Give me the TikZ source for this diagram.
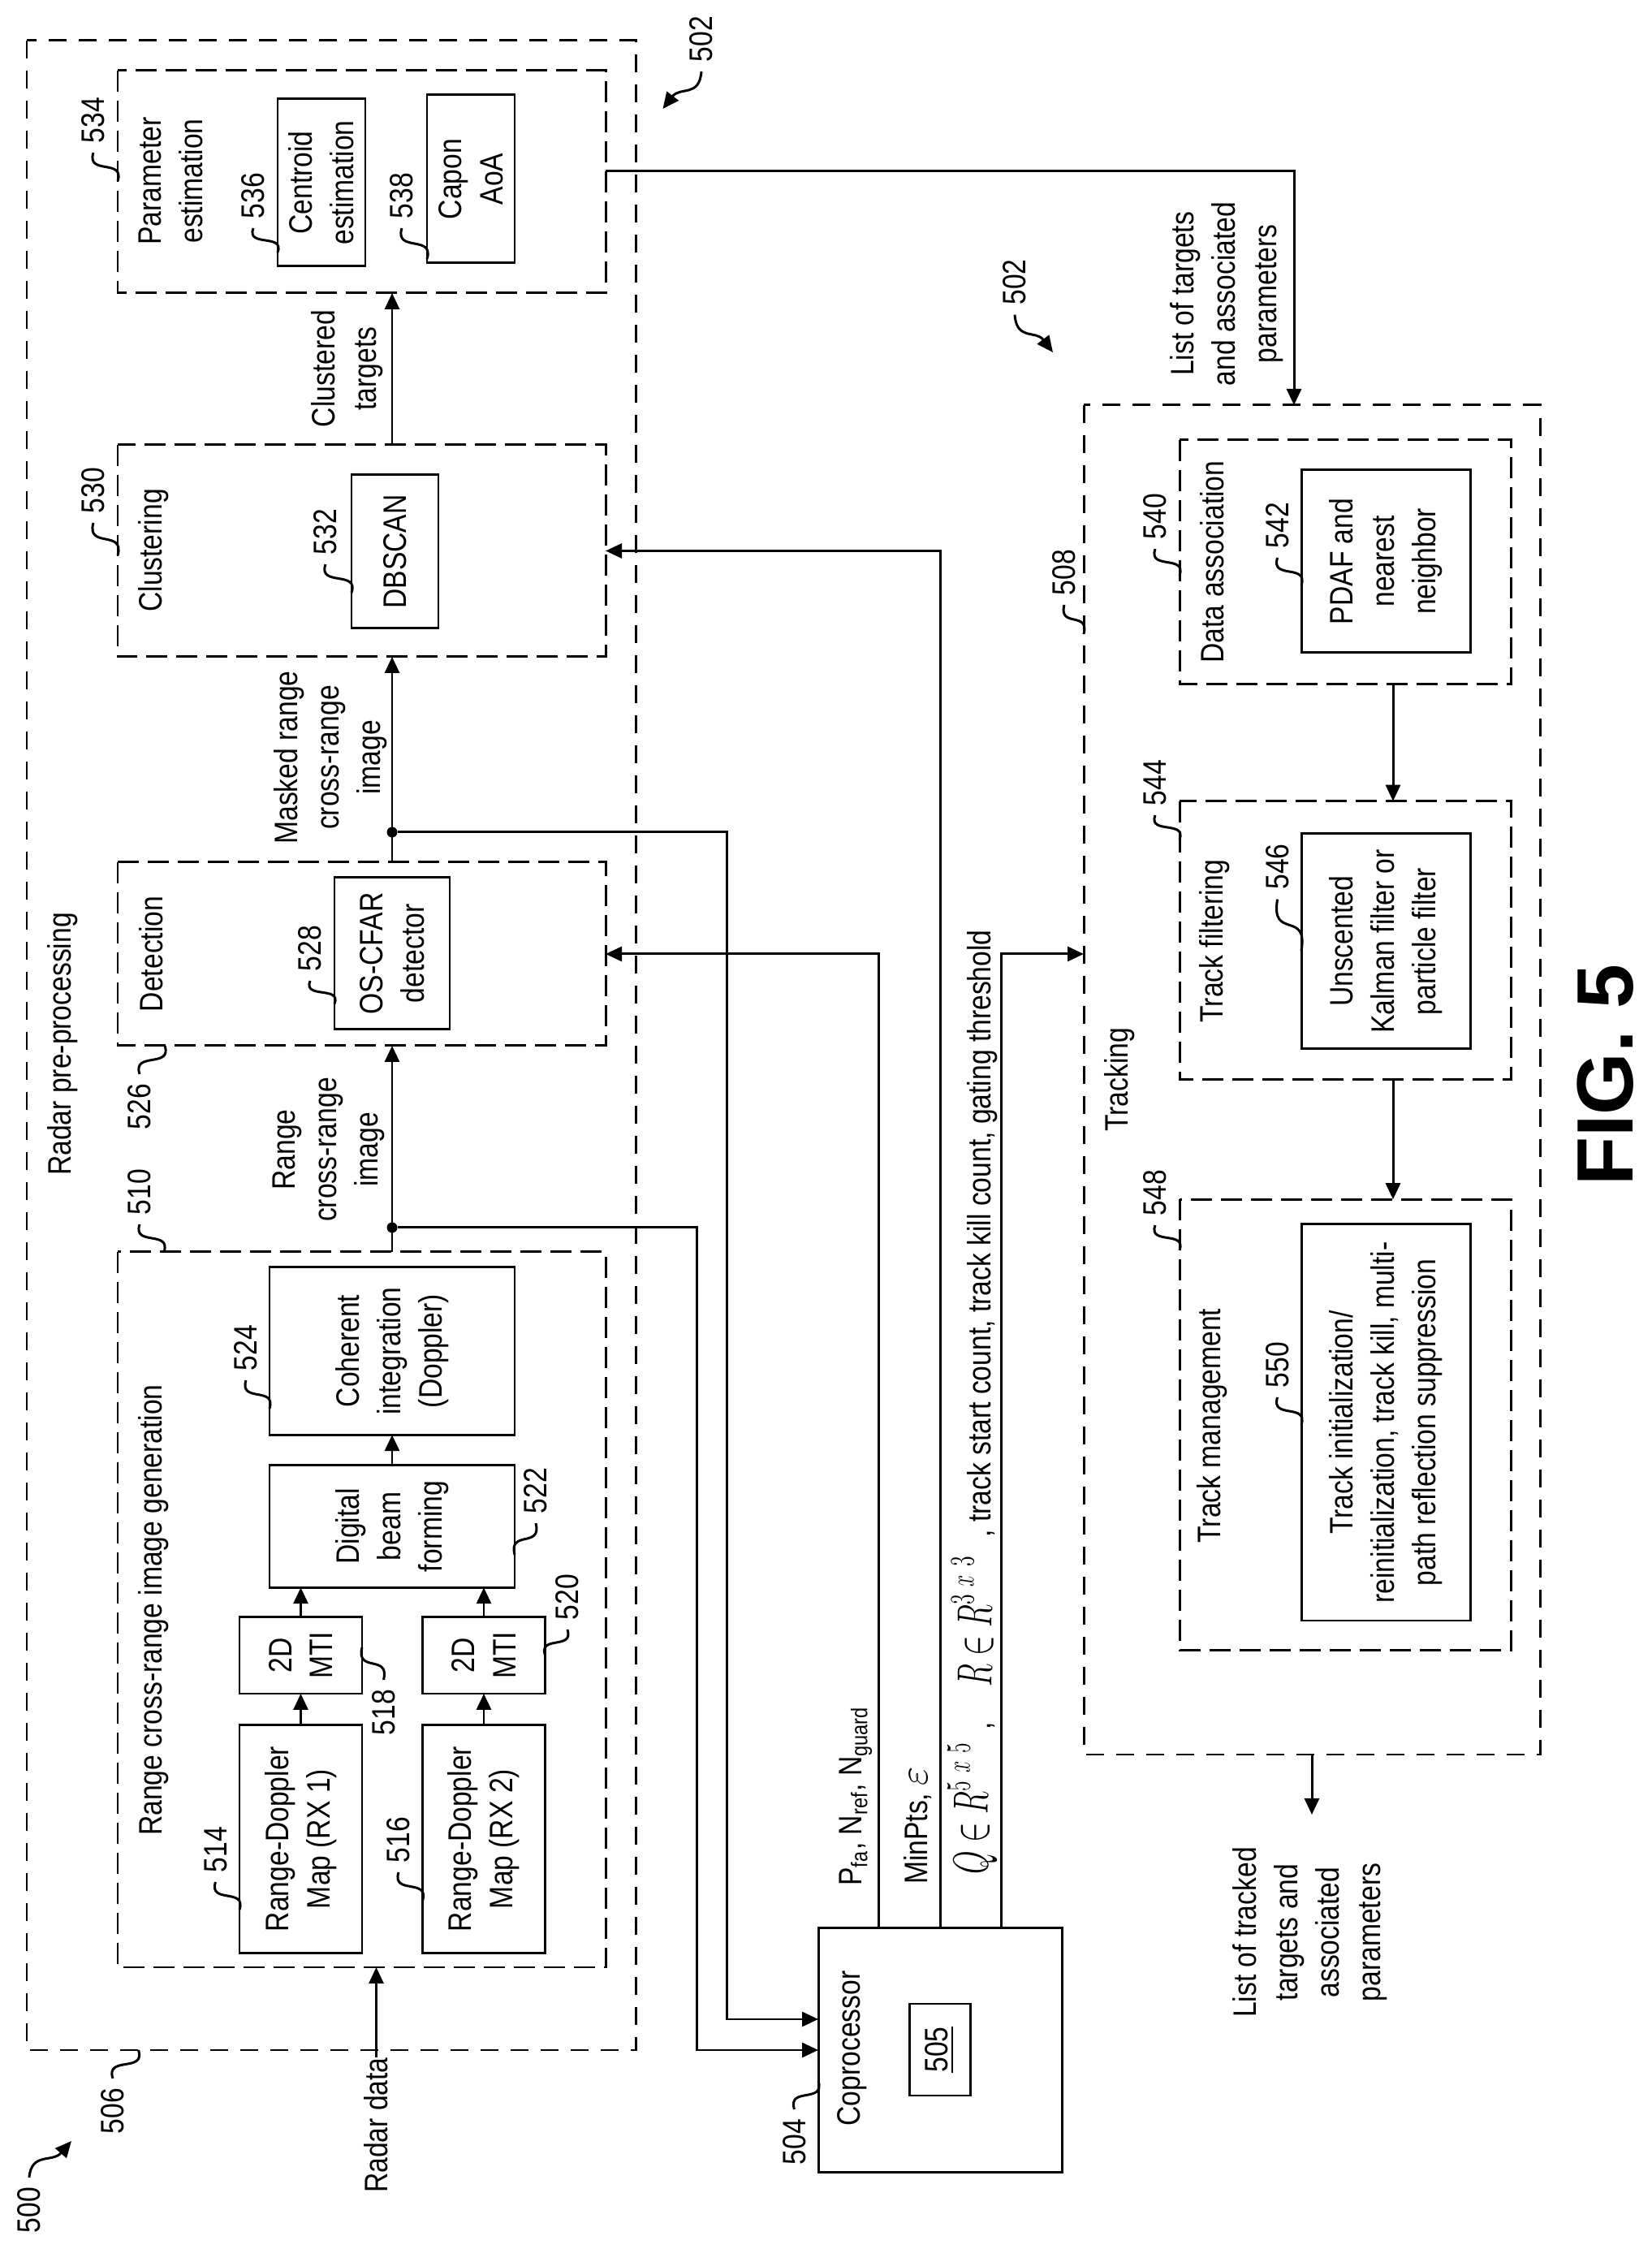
\documentclass[tikz,border=0pt]{standalone}
\usepackage{fontspec}
\usepackage{tikz}
\usetikzlibrary{arrows.meta,calc}
\setmainfont[FakeStretch=0.84]{Liberation Sans}
\newfontfamily\figfont{Liberation Sans}
\tikzset{
  solidbox/.style={draw,line width=0.85pt,rotate=90,align=center,inner sep=0pt,outer sep=0pt},
  dashbox/.style={solidbox,dash pattern=on 0.26cm off 0.11cm},
  outerbox/.style={solidbox,dash pattern=on 0.22cm off 0.15cm},
  textlabel/.style={rotate=90,align=center,inner sep=0pt},
  numlabel/.style={rotate=90,inner sep=0pt,outer sep=0.12cm},
  flowline/.style={draw,line width=0.85pt},
  arrowline/.style={flowline,-{Triangle[length=0.20cm,width=0.18cm]}},
  dotnode/.style={circle,fill,inner sep=0pt,minimum size=0.13cm},
  leadline/.style={to path={let \p1=($(\tikztotarget)-(\tikztostart)$) in
    .. controls ($(\tikztostart)+(-0.3*\x1,0.8*\y1)$) and ($(\tikztostart)+(1.3*\x1,0.2*\y1)$) .. (\tikztotarget)}},
  tipline/.style={to path={let \p1=($(\tikztotarget)-(\tikztostart)$) in
    .. controls ($(\tikztostart)+(0.05*\x1,0.7*\y1)$) and ($(\tikztostart)+(0.55*\x1,0.4*\y1)$) .. (\tikztotarget)}},
}
\begin{document}
\begin{tikzpicture}[font=\fontsize{11.4}{14.5}\selectfont]
  \useasboundingbox (0,0) rectangle (20.35,27.70);

  \node[outerbox,minimum width=24.75cm,minimum height=7.50cm] (radar) at (4.08,14.825) {};
  \node[dashbox,minimum width=2.74cm,minimum height=6.01cm] (param) at (4.455,25.46) {};
  \node[dashbox,minimum width=2.61cm,minimum height=6.01cm] (clust) at (4.455,20.915) {};
  \node[dashbox,minimum width=2.26cm,minimum height=6.01cm] (detect) at (4.455,15.95) {};
  \node[dashbox,minimum width=8.81cm,minimum height=6.01cm] (image) at (4.455,7.875) {};

  \node[solidbox,minimum width=2.06cm,minimum height=1.08cm] (centroid) at (3.96,25.45) {Centroid\\estimation};
  \node[solidbox,minimum width=2.07cm,minimum height=1.08cm] (capon) at (5.80,25.495) {Capon\\AoA};
  \node[solidbox,minimum width=1.89cm,minimum height=1.07cm] (dbscan) at (4.865,20.905) {DBSCAN};
  \node[solidbox,minimum width=1.87cm,minimum height=1.42cm] (oscfar) at (4.83,15.955) {OS-CFAR\\detector};
  \node[solidbox,minimum width=2.065cm,minimum height=3.02cm] (coherent) at (4.83,11.06) {Coherent\\integration\\(Doppler)};
  \node[solidbox,minimum width=1.505cm,minimum height=3.02cm] (digital) at (4.83,8.90) {Digital\\beam\\forming};
  \node[solidbox,minimum width=0.94cm,minimum height=1.51cm] (mtione) at (3.705,7.31) {2D\\MTI};
  \node[solidbox,minimum width=0.94cm,minimum height=1.51cm] (mtitwo) at (5.96,7.31) {2D\\MTI};
  \node[solidbox,minimum width=2.815cm,minimum height=1.51cm] (rdone) at (3.705,5.05) {Range-Doppler\\Map (RX 1)};
  \node[solidbox,minimum width=2.815cm,minimum height=1.51cm] (rdtwo) at (5.96,5.05) {Range-Doppler\\Map (RX 2)};

  \node[solidbox,minimum width=3.005cm,minimum height=3.00cm] (copro) at (11.58,2.45) {};
  \node[solidbox,minimum width=1.13cm,minimum height=0.75cm] (mem) at (11.575,2.455) {\underline{505}};

  \node[outerbox,minimum width=16.62cm,minimum height=5.62cm] (track) at (16.16,14.40) {};
  \node[dashbox,minimum width=3.005cm,minimum height=4.08cm] (assoc) at (16.57,20.78) {};
  \node[dashbox,minimum width=3.425cm,minimum height=4.08cm] (filter) at (16.57,16.12) {};
  \node[dashbox,minimum width=5.555cm,minimum height=4.08cm] (manage) at (16.57,10.15) {};
  \node[solidbox,minimum width=2.25cm,minimum height=2.08cm] (pdaf) at (17.07,20.785) {PDAF and\\nearest\\neighbor};
  \node[solidbox,minimum width=2.65cm,minimum height=2.08cm] (kalman) at (17.07,16.105) {Unscented\\Kalman filter or\\particle filter};
  \node[solidbox,minimum width=4.88cm,minimum height=2.08cm] (init) at (17.07,10.18) {Track initialization/\\reinitialization, track kill, multi-\\path reflection suppression};

  \node[textlabel] (tparam) at (2.10,25.47) {Parameter\\estimation};
  \node[textlabel] (tclusttarget) at (4.28,23.16) {Clustered\\targets};
  \node[textlabel] (tclust) at (1.89,20.92) {Clustering};
  \node[textlabel] (tmask) at (4.07,18.37) {Masked range\\cross-range\\image};
  \node[textlabel] (tdetect) at (1.86,15.95) {Detection};
  \node[textlabel] (tradar) at (0.774,14.84) {Radar pre-processing};
  \node[textlabel] (trange) at (4.05,13.54) {Range\\cross-range\\image};
  \node[textlabel] (timage) at (1.89,7.87) {Range cross-range image generation};
  \node[textlabel] (tdata) at (4.635,1.525) {Radar data};
  \node[textlabel] (tcopro) at (10.50,2.47) {Coprocessor};
  \node[textlabel] (tpfa) at (10.54,5.58) {P\textsubscript{fa}, N\textsubscript{ref}, N\textsubscript{guard}};
  \node[textlabel] (tminpts) at (11.31,5.215) {MinPts, {\fontsize{13.4}{15}\selectfont$\varepsilon$}};
  \node[textlabel,font=\fontsize{17.28}{19}\selectfont] (tq) at (11.98,5.43) {\scalebox{0.61}[1]{$Q\in R^{5\mskip7mu x\mskip7mu 5}$}};
  \node[textlabel] (tcomma) at (12.21,6.44) {,};
  \node[textlabel,font=\fontsize{17.28}{19}\selectfont] (tr) at (11.98,7.73) {\scalebox{0.61}[1]{$R\in R^{3\mskip7mu x\mskip7mu 3}$}};
  \node[textlabel] (tgate) at (12.10,12.505) {, track start count, track kill count, gating threshold};
  \node[textlabel] (ttrack) at (13.795,14.40) {Tracking};
  \node[textlabel] (tassoc) at (14.93,20.78) {Data association};
  \node[textlabel] (tlist) at (15.115,24.08) {List of targets\\and associated\\parameters};
  \node[textlabel] (tfilter) at (14.96,16.11) {Track filtering};
  \node[textlabel] (tmanage) at (14.93,10.14) {Track management};
  \node[textlabel] (tout) at (16.14,3.90) {List of tracked\\targets and\\associated\\parameters};
  \node[textlabel,font=\figfont\bfseries\fontsize{28}{30}\selectfont] (tfig) at (19.776,14.46) {FIG. 5};

  \node[numlabel] (n502a) at (8.64,27.22) {502};
  \node[numlabel] (n534) at (1.15,26.22) {534};
  \node[numlabel] (n536) at (3.12,25.29) {536};
  \node[numlabel] (n538) at (4.95,25.29) {538};
  \node[numlabel] (n530) at (1.15,21.66) {530};
  \node[numlabel] (n532) at (4.01,21.15) {532};
  \node[numlabel] (n528) at (3.82,16.02) {528};
  \node[numlabel] (n526) at (1.72,14.07) {526};
  \node[numlabel] (n510) at (1.72,13.02) {510};
  \node[numlabel] (n524) at (3.03,11.10) {524};
  \node[numlabel] (n522) at (6.60,9.34) {522};
  \node[numlabel] (n518) at (4.725,6.61) {518};
  \node[numlabel] (n520) at (6.99,8.03) {520};
  \node[numlabel] (n514) at (2.655,4.92) {514};
  \node[numlabel] (n516) at (4.91,5.04) {516};
  \node[numlabel] (n506) at (1.39,1.70) {506};
  \node[numlabel] (n500) at (0.36,0.48) {500};
  \node[numlabel] (n504) at (9.785,1.32) {504};
  \node[numlabel] (n508) at (13.11,20.65) {508};
  \node[numlabel] (n540) at (14.23,21.34) {540};
  \node[numlabel] (n542) at (15.736,21.23) {542};
  \node[numlabel] (n502b) at (12.50,24.224) {502};
  \node[numlabel] (n544) at (14.23,18.06) {544};
  \node[numlabel] (n546) at (15.736,17.024) {546};
  \node[numlabel] (n548) at (14.23,13.01) {548};
  \node[numlabel] (n550) at (15.736,10.89) {550};

  \draw[flowline] (n534.west) to[leadline] (param.north |- 0,25.47);
  \draw[flowline] (n536.west) to[leadline] (centroid.north |- 0,24.59);
  \draw[flowline] (n538.west) to[leadline] (capon.north |- 0,24.51);
  \draw[flowline] (n530.west) to[leadline] (clust.north |- 0,20.86);
  \draw[flowline] (n532.west) to[leadline] (dbscan.north |- 0,20.40);
  \draw[flowline] (n528.west) to[leadline] (oscfar.north |- 0,15.335);
  \draw[flowline] (n526.east) to[leadline] (detect.west -| 2.03,0);
  \draw[flowline] (n510.west) to[leadline] (image.east -| 2.02,0);
  \draw[flowline] (n524.west) to[leadline] (coherent.north |- 0,10.35);
  \draw[flowline] (n522.west) to[leadline] (digital.south |- 0,8.55);
  \draw[flowline] (n518.east) to[leadline] (mtione.south |- 0,7.41);
  \draw[flowline] (n520.west) to[leadline] (mtitwo.south);
  \draw[flowline] (n514.west) to[leadline] (rdone.north |- 0,4.18);
  \draw[flowline] (n516.west) to[leadline] (rdtwo.north |- 0,4.29);
  \draw[flowline] (n506.east) to[leadline] (radar.west -| 1.705,0);
  \draw[flowline] (n504.east) to[leadline] (copro.north |- 0,2.07);
  \draw[flowline] (n508.west) to[leadline] (track.north |- 0,19.89);
  \draw[flowline] (n540.west) to[leadline] (assoc.north |- 0,20.61);
  \draw[flowline] (n542.west) to[leadline] (pdaf.north |- 0,20.49);
  \draw[flowline] (n544.west) to[leadline] (filter.north |- 0,17.36);
  \draw[flowline] (n546.west) to[leadline] (kalman.north |- 0,15.99);
  \draw[flowline] (n548.west) to[leadline] (manage.north |- 0,12.30);
  \draw[flowline] (n550.west) to[leadline] (init.north |- 0,10.15);

  \coordinate (tipa) at (8.165,26.36);
  \coordinate (tipb) at (12.97,23.36);
  \coordinate (tipc) at (0.88,1.33);
  \draw[arrowline] (n502a.west) to[tipline] (tipa);
  \draw[arrowline] (n502b.west) to[tipline] (tipb);
  \draw[arrowline] (n500.east) to[tipline] (tipc);

  \draw[arrowline] (rdone.east) -- (mtione.west);
  \draw[arrowline] (rdtwo.east) -- (mtitwo.west);
  \draw[arrowline] (mtione.east) -- (mtione.east |- digital.west);
  \draw[arrowline] (mtitwo.east) -- (mtitwo.east |- digital.west);
  \draw[arrowline] (digital.east) -- (coherent.west);
  \draw[arrowline] (tdata.east) -- (tdata.east |- image.west);

  \node[dotnode] (dota) at (4.83,12.58) {};
  \node[dotnode] (dotb) at (4.83,17.45) {};
  \draw[arrowline] (dota |- image.east) -- (dota |- detect.west);
  \draw[arrowline] (dota |- detect.east) -- (dota |- clust.west);
  \draw[arrowline] (dota |- clust.east) -- (dota |- param.west);

  \coordinate (turna) at (8.58,2.45);
  \coordinate (turnb) at (8.95,2.83);
  \draw[arrowline] (dota) -| (turna) -- (copro.north);
  \draw[arrowline] (dotb) -| (turnb) -- (copro.north |- turnb);

  \coordinate (tappfa) at (10.825,0);
  \coordinate (tapgate) at (12.33,0);
  \draw[arrowline] (tappfa |- copro.east) |- (detect.south);
  \draw[arrowline] (copro.east) |- (clust.south);
  \draw[arrowline] (tapgate |- copro.east) |- (track.north |- detect.south);

  \coordinate (turnc) at (15.94,25.59);
  \coordinate (flow) at (17.16,0);
  \coordinate (outtip) at (16.16,5.35);
  \draw[arrowline] (param.south |- turnc) -| (track.east -| turnc);
  \draw[arrowline] (flow |- assoc.west) -- (flow |- filter.east);
  \draw[arrowline] (flow |- filter.west) -- (flow |- manage.east);
  \draw[arrowline] (track.west) -- (outtip);
\end{tikzpicture}
\end{document}
